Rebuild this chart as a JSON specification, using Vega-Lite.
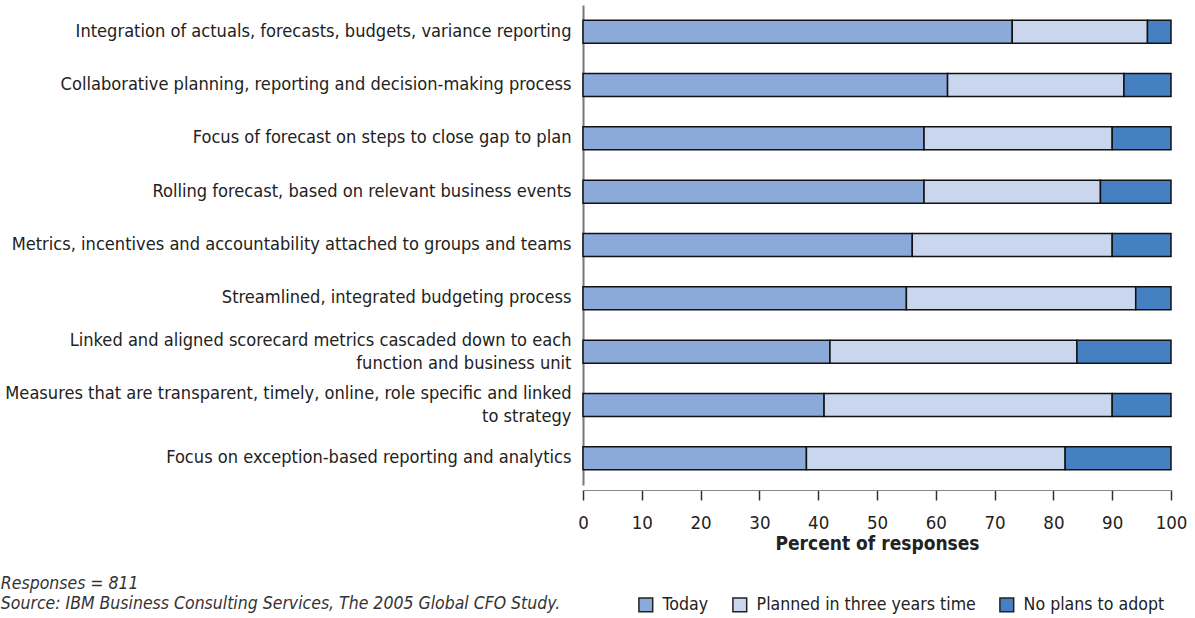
{
  "$schema": "https://vega.github.io/schema/vega-lite/v6.json",
  "autosize": "none",
  "width": 588,
  "height": 480,
  "padding": {"left": 583, "top": 5, "right": 24, "bottom": 133},
  "background": "white",
  "config": {
    "font": "DejaVu Sans Condensed, Liberation Sans",
    "view": {"stroke": null}
  },
  "title": {
    "text": ["Responses = 811", "Source: IBM Business Consulting Services, The 2005 Global CFO Study."],
    "orient": "bottom",
    "anchor": "start",
    "frame": "bounds",
    "font": "DejaVu Sans Condensed, Liberation Sans",
    "fontStyle": "italic",
    "fontWeight": "normal",
    "fontSize": 17.5,
    "color": "#333333",
    "lineHeight": 20,
    "offset": -40,
    "dx": -4
  },
  "data": {
    "values": [
      {"item": "Integration of actuals, forecasts, budgets, variance reporting", "rank": 1, "status": "Today", "k": 1, "pct": 73},
      {"item": "Integration of actuals, forecasts, budgets, variance reporting", "rank": 1, "status": "Planned in three years time", "k": 2, "pct": 23},
      {"item": "Integration of actuals, forecasts, budgets, variance reporting", "rank": 1, "status": "No plans to adopt", "k": 3, "pct": 4},
      {"item": "Collaborative planning, reporting and decision-making process", "rank": 2, "status": "Today", "k": 1, "pct": 62},
      {"item": "Collaborative planning, reporting and decision-making process", "rank": 2, "status": "Planned in three years time", "k": 2, "pct": 30},
      {"item": "Collaborative planning, reporting and decision-making process", "rank": 2, "status": "No plans to adopt", "k": 3, "pct": 8},
      {"item": "Focus of forecast on steps to close gap to plan", "rank": 3, "status": "Today", "k": 1, "pct": 58},
      {"item": "Focus of forecast on steps to close gap to plan", "rank": 3, "status": "Planned in three years time", "k": 2, "pct": 32},
      {"item": "Focus of forecast on steps to close gap to plan", "rank": 3, "status": "No plans to adopt", "k": 3, "pct": 10},
      {"item": "Rolling forecast, based on relevant business events", "rank": 4, "status": "Today", "k": 1, "pct": 58},
      {"item": "Rolling forecast, based on relevant business events", "rank": 4, "status": "Planned in three years time", "k": 2, "pct": 30},
      {"item": "Rolling forecast, based on relevant business events", "rank": 4, "status": "No plans to adopt", "k": 3, "pct": 12},
      {"item": "Metrics, incentives and accountability attached to groups and teams", "rank": 5, "status": "Today", "k": 1, "pct": 56},
      {"item": "Metrics, incentives and accountability attached to groups and teams", "rank": 5, "status": "Planned in three years time", "k": 2, "pct": 34},
      {"item": "Metrics, incentives and accountability attached to groups and teams", "rank": 5, "status": "No plans to adopt", "k": 3, "pct": 10},
      {"item": "Streamlined, integrated budgeting process", "rank": 6, "status": "Today", "k": 1, "pct": 55},
      {"item": "Streamlined, integrated budgeting process", "rank": 6, "status": "Planned in three years time", "k": 2, "pct": 39},
      {"item": "Streamlined, integrated budgeting process", "rank": 6, "status": "No plans to adopt", "k": 3, "pct": 6},
      {"item": "Linked and aligned scorecard metrics cascaded down to each|function and business unit", "rank": 7, "status": "Today", "k": 1, "pct": 42},
      {"item": "Linked and aligned scorecard metrics cascaded down to each|function and business unit", "rank": 7, "status": "Planned in three years time", "k": 2, "pct": 42},
      {"item": "Linked and aligned scorecard metrics cascaded down to each|function and business unit", "rank": 7, "status": "No plans to adopt", "k": 3, "pct": 16},
      {"item": "Measures that are transparent, timely, online, role specific and linked|to strategy", "rank": 8, "status": "Today", "k": 1, "pct": 41},
      {"item": "Measures that are transparent, timely, online, role specific and linked|to strategy", "rank": 8, "status": "Planned in three years time", "k": 2, "pct": 49},
      {"item": "Measures that are transparent, timely, online, role specific and linked|to strategy", "rank": 8, "status": "No plans to adopt", "k": 3, "pct": 10},
      {"item": "Focus on exception-based reporting and analytics", "rank": 9, "status": "Today", "k": 1, "pct": 38},
      {"item": "Focus on exception-based reporting and analytics", "rank": 9, "status": "Planned in three years time", "k": 2, "pct": 44},
      {"item": "Focus on exception-based reporting and analytics", "rank": 9, "status": "No plans to adopt", "k": 3, "pct": 18}
    ]
  },
  "mark": {"type": "bar", "stroke": "#111111", "strokeWidth": 1.5},
  "encoding": {
    "y": {
      "field": "item",
      "type": "nominal",
      "sort": {"field": "rank", "op": "min", "order": "ascending"},
      "scale": {"paddingInner": 0.57, "paddingOuter": 0.285},
      "axis": {
        "title": null,
        "labelExpr": "split(datum.value, '|')",
        "labelFont": "DejaVu Sans Condensed, Liberation Sans",
        "labelFontSize": 18.1,
        "labelColor": "#222222",
        "labelLimit": 0,
        "labelPadding": 12,
        "labelLineHeight": 23,
        "labelOffset": {"condition": {"test": "indexof(datum.value, '|') >= 0", "value": -11}, "value": 0},
        "ticks": false,
        "domainColor": "#777777",
        "domainWidth": 2
      }
    },
    "x": {
      "field": "pct",
      "type": "quantitative",
      "stack": "zero",
      "scale": {"domain": [0, 100], "nice": false},
      "axis": {
        "title": "Percent of responses",
        "titleFont": "DejaVu Sans Condensed, Liberation Sans",
        "titleFontSize": 19,
        "titleFontWeight": "bold",
        "titleColor": "#222222",
        "titlePadding": 3,
        "values": [0, 10, 20, 30, 40, 50, 60, 70, 80, 90, 100],
        "labelFont": "DejaVu Sans Condensed, Liberation Sans",
        "labelFontSize": 18.5,
        "labelColor": "#222222",
        "labelPadding": 13,
        "labelFlush": false,
        "labelOverlap": false,
        "grid": false,
        "offset": 5,
        "tickSize": 10,
        "tickColor": "#333333",
        "tickWidth": 1.5,
        "domainColor": "#888888",
        "domainWidth": 1
      }
    },
    "color": {
      "field": "status",
      "type": "nominal",
      "scale": {
        "domain": ["Today", "Planned in three years time", "No plans to adopt"],
        "range": ["#8BAAD9", "#C9D6EE", "#4580C2"]
      },
      "legend": {
        "title": null,
        "orient": "none",
        "direction": "horizontal",
        "legendX": 54,
        "legendY": 591,
        "symbolType": "square",
        "symbolSize": 190,
        "symbolStrokeColor": "#222222",
        "symbolStrokeWidth": 1.5,
        "labelFont": "DejaVu Sans Condensed, Liberation Sans",
        "labelFontSize": 17.6,
        "labelColor": "#222222",
        "labelLimit": 0,
        "columnPadding": 20,
        "labelOffset": 8
      }
    },
    "order": {"field": "k", "type": "quantitative"}
  }
}
